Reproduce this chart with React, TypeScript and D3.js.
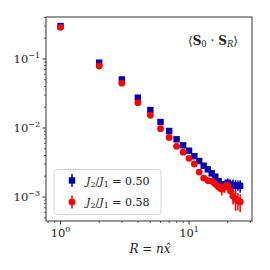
import React from 'react';
import * as d3 from 'd3';

// distances R = n x-hat
const distances = d3.range(1, 26);

// J2/J1 = 0.50
const corrA = [0.30, 0.0884, 0.0505, 0.0275, 0.0182, 0.0122, 0.00905, 0.00686, 0.00561, 0.00469,
  0.0039, 0.00332, 0.00284, 0.00252, 0.0022, 0.00197, 0.0017, 0.00153, 0.00149, 0.00161,
  0.00153, 0.00149, 0.00146, 0.00148, 0.00145];
const errA = [0.003, 0.0008, 0.0004, 0.0002, 0.0001, 0.00008, 0.00006, 0.00005, 0.00004, 0.00004,
  0.00004, 0.00004, 0.00005, 0.00005, 0.00006, 0.00008, 0.0001, 0.00015, 0.0002, 0.00025,
  0.0002, 0.0003, 0.0003, 0.00025, 0.0003];

// J2/J1 = 0.58
const corrB = [0.288, 0.0792, 0.0446, 0.0233, 0.0153, 0.00977, 0.00728, 0.00543, 0.00446, 0.00364,
  0.00301, 0.0023, 0.00188, 0.00173, 0.0017, 0.00154, 0.0014, 0.0013, 0.0014, 0.00147,
  0.00122, 0.00103, 0.00093, 0.00089, 0.00085];
const errB = [0.003, 0.0008, 0.0004, 0.0002, 0.0001, 0.00008, 0.00006, 0.00005, 0.00005, 0.00006,
  0.00008, 0.0001, 0.00015, 0.0002, 0.0002, 0.0002, 0.0002, 0.00025, 0.00025, 0.0002,
  0.00025, 0.00025, 0.0003, 0.00025, 0.00025];

const xTicks = [1, 10];
const yTicks = [1e-1, 1e-2, 1e-3];

const blue = '#0000b0';
const red = '#ff0000';
const font = '"DejaVu Serif", serif';

const left = 46, right = 252, top = 17, bottom = 221;

function Pow({ x, y, exp, anchor }: { x: number; y: number; exp: string; anchor: string }) {
  return (
    <text x={x} y={y} textAnchor={anchor} fontFamily={font} fontSize={11.5} fill="#222">
      10<tspan dy={-5} fontSize={8}>{exp}</tspan>
    </text>
  );
}

export default function App() {
  const x = d3.scaleLog().domain([0.771, 30.9]).range([left, right]);
  const y = d3.scaleLog().domain([4.49e-4, 0.406]).range([bottom, top]);

  const xMinor: number[] = [];
  for (const d of [0.1, 1, 10]) for (let k = 2; k <= 9; k++) {
    const v = d * k;
    if (v > 0.771 && v < 30.9) xMinor.push(v);
  }
  const yMinor: number[] = [];
  for (const d of [1e-4, 1e-3, 1e-2, 1e-1]) for (let k = 2; k <= 9; k++) {
    const v = d * k;
    if (v > 4.49e-4 && v < 0.406) yMinor.push(v);
  }

  const seriesA = distances.map((r, i) => ({ r, v: corrA[i], e: errA[i] }));
  const seriesB = distances.map((r, i) => ({ r, v: corrB[i], e: errB[i] }));

  const errBars = (s: { r: number; v: number; e: number }[], color: string) =>
    s.map((d, i) => (
      <line key={i} x1={x(d.r)} x2={x(d.r)} y1={y(Math.max(d.v - d.e, 1e-5))} y2={y(d.v + d.e)}
        stroke={color} strokeWidth={1.5} />
    ));

  return (
    <svg width={270} height={270} style={{ position: 'absolute', left: 0, top: 0, background: '#fff' }}>
      <g clipPath="url(#plot)">
        <clipPath id="plot"><rect x={left} y={top} width={right - left} height={bottom - top} /></clipPath>
        {errBars(seriesA, blue)}
        {seriesA.map((d, i) => (
          <rect key={i} x={x(d.r) - 3.2} y={y(d.v) - 3.2} width={6.4} height={6.4} fill={blue} />
        ))}
        {errBars(seriesB, red)}
        {seriesB.map((d, i) => (
          <circle key={i} cx={x(d.r)} cy={y(d.v)} r={3.4} fill={red} />
        ))}
      </g>

      {/* frame */}
      <rect x={left} y={top} width={right - left} height={bottom - top} fill="none" stroke="#333" strokeWidth={1} />

      {/* x ticks */}
      {xTicks.map(t => (
        <g key={t}>
          <line x1={x(t)} x2={x(t)} y1={bottom} y2={bottom + 3.5} stroke="#333" />
          <Pow x={x(t)} y={bottom + 16} exp={String(Math.log10(t))} anchor="middle" />
        </g>
      ))}
      {xMinor.map(t => (
        <line key={t} x1={x(t)} x2={x(t)} y1={bottom} y2={bottom + 2} stroke="#333" strokeWidth={0.8} />
      ))}

      {/* y ticks */}
      {yTicks.map(t => (
        <g key={t}>
          <line x1={left - 3.5} x2={left} y1={y(t)} y2={y(t)} stroke="#333" />
          <Pow x={40} y={y(t) + 4} exp={'\u2212' + String(-Math.round(Math.log10(t)))} anchor="end" />
        </g>
      ))}
      {yMinor.map(t => (
        <line key={t} x1={left - 2} x2={left} y1={y(t)} y2={y(t)} stroke="#333" strokeWidth={0.8} />
      ))}

      {/* x label */}
      <text x={150} y={253} textAnchor="middle" fontFamily={font} fontSize={12} fill="#222">
        <tspan fontStyle="italic">R</tspan> = <tspan fontStyle="italic">n</tspan>
        <tspan fontStyle="italic">{'x\u0302'}</tspan>
      </text>

      {/* annotation */}
      <text x={238} y={45} textAnchor="end" fontFamily={font} fontSize={12} fill="#222">
        {'\u27E8'}<tspan fontWeight="bold">S</tspan><tspan fontSize={8.5} dy={2}>0</tspan>
        <tspan dy={-2}> · </tspan><tspan fontWeight="bold">S</tspan>
        <tspan fontSize={8.5} dy={2} fontStyle="italic">R</tspan><tspan dy={-2}>{'\u27E9'}</tspan>
      </text>

      {/* legend */}
      <rect x={54} y={169.5} width={107} height={45} rx={3} fill="#fff" fillOpacity={0.8} stroke="#ccc" strokeWidth={0.8} />
      {[{ c: blue, label: '0.50', yy: 180.5, sq: true }, { c: red, label: '0.58', yy: 202, sq: false }].map(l => (
        <g key={l.label}>
          <line x1={72} x2={72} y1={l.yy - 6.5} y2={l.yy + 6.5} stroke={l.c} strokeWidth={1.5} />
          {l.sq
            ? <rect x={68.8} y={l.yy - 3.2} width={6.4} height={6.4} fill={l.c} />
            : <circle cx={72} cy={l.yy} r={3.4} fill={l.c} />}
          <text x={86} y={l.yy + 4} fontFamily={font} fontSize={11} fill="#222">
            <tspan fontStyle="italic">J</tspan><tspan fontSize={8} dy={2}>2</tspan>
            <tspan dy={-2}>/</tspan><tspan fontStyle="italic">J</tspan>
            <tspan fontSize={8} dy={2}>1</tspan><tspan dy={-2}> = {l.label}</tspan>
          </text>
        </g>
      ))}
    </svg>
  );
}
